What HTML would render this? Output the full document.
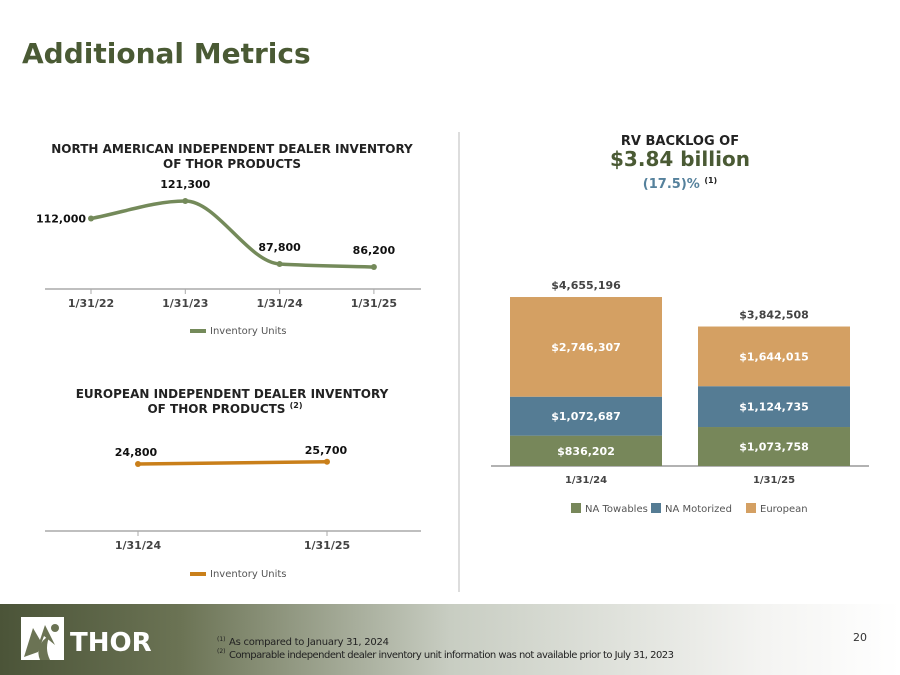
<!DOCTYPE html>
<html><head><meta charset="utf-8"><style>
body{margin:0;width:900px;height:675px;overflow:hidden;background:#fff;font-family:"DejaVu Sans","Liberation Sans",sans-serif}
svg{position:absolute;left:0;top:0}
</style></head><body>
<svg width="900" height="675">
<defs><linearGradient id="fg" x1="0" x2="1" y1="0" y2="0"><stop offset="0" stop-color="#4b5438"/><stop offset="0.2" stop-color="#6b7354"/><stop offset="0.5" stop-color="#c8cdc2"/><stop offset="0.85" stop-color="#f4f4f2"/><stop offset="1" stop-color="#ffffff"/></linearGradient></defs>
<text x="22" y="63" font-size="28" font-weight="bold" fill="#4a5a34">Additional Metrics</text>
<line x1="459" y1="132" x2="459" y2="592" stroke="#ddd" stroke-width="2"/>
<g id="na">
<text x="232" y="153" font-size="12" font-weight="bold" fill="#222" text-anchor="middle">NORTH AMERICAN INDEPENDENT DEALER INVENTORY</text>
<text x="232" y="168" font-size="12" font-weight="bold" fill="#222" text-anchor="middle">OF THOR PRODUCTS</text>
<line x1="45" y1="289" x2="421" y2="289" stroke="#aaa" stroke-width="1.5"/>
<line x1="190" y1="331" x2="206" y2="331" stroke="#748a5a" stroke-width="4"/>
<text x="210" y="334" font-size="10" fill="#555">Inventory Units</text>
</g>
<g id="eu">
<text x="232" y="398" font-size="12" font-weight="bold" fill="#222" text-anchor="middle">EUROPEAN INDEPENDENT DEALER INVENTORY</text>
<text x="225" y="413" font-size="12" font-weight="bold" fill="#222" text-anchor="middle">OF THOR PRODUCTS <tspan font-size="8" dy="-5">(2)</tspan></text>
<line x1="45" y1="531" x2="421" y2="531" stroke="#aaa" stroke-width="1.5"/>
<line x1="190" y1="574" x2="206" y2="574" stroke="#c97f1a" stroke-width="4"/>
<text x="210" y="577" font-size="10" fill="#555">Inventory Units</text>
</g>
<g id="bl">
<text x="680" y="145" font-size="13" font-weight="bold" fill="#222" text-anchor="middle">RV BACKLOG OF</text>
<text x="680" y="166" font-size="20" font-weight="bold" fill="#4a5a34" text-anchor="middle">$3.84 billion</text>
<text x="680" y="188" font-size="13" font-weight="bold" fill="#55819c" text-anchor="middle">(17.5)% <tspan font-size="8" dy="-5" fill="#222">(1)</tspan></text>
<line x1="491" y1="466" x2="869" y2="466" stroke="#999" stroke-width="1.5"/>
</g>
<g font-size="10" fill="#555">
<rect x="571" y="503" width="10" height="10" fill="#77875a"/><text x="585" y="512">NA Towables</text>
<rect x="651" y="503" width="10" height="10" fill="#557c94"/><text x="665" y="512">NA Motorized</text>
<rect x="746" y="503" width="10" height="10" fill="#d4a063"/><text x="760" y="512">European</text>
</g>
<rect x="0" y="604" width="900" height="71" fill="url(#fg)"/>
<g>
<rect x="21" y="617" width="43" height="43" fill="#fff"/>
<path d="M24 657 L33 628 L40 640 L45 625 L55 645 L44 636 L38 652 Z" fill="#6b7354"/>
<path d="M40 660 Q34 645 50 635 Q44 648 50 660 Z" fill="#6b7354"/>
<circle cx="55" cy="628" r="4" fill="#6b7354"/>
<text x="70" y="651" font-size="26" font-weight="bold" fill="#fff">THOR</text>
</g>
<g font-size="10" fill="#222">
<text x="217" y="641" font-size="6">(1)</text><text x="229" y="645" textLength="160">As compared to January 31, 2024</text>
<text x="217" y="653" font-size="6">(2)</text><text x="229" y="658" textLength="445">Comparable independent dealer inventory unit information was not available prior to July 31, 2023</text>
</g>
<text x="853" y="641" font-size="11" fill="#333">20</text>
</svg>
<script>
const NS="http://www.w3.org/2000/svg";
const naCats=["1/31/22","1/31/23","1/31/24","1/31/25"];
const naVals=[112000,121300,87800,86200];
const naLabels=["112,000","121,300","87,800","86,200"];
const euCats=["1/31/24","1/31/25"];
const euVals=[24800,25700];
const euLabels=["24,800","25,700"];
const blCats=["1/31/24","1/31/25"];
const blTow=[836202,1073758];
const blMot=[1072687,1124735];
const blEur=[2746307,1644015];
const blTowL=["$836,202","$1,073,758"];
const blMotL=["$1,072,687","$1,124,735"];
const blEurL=["$2,746,307","$1,644,015"];
const blTotL=["$4,655,196","$3,842,508"];
function mk(parent,tag,attrs){const e=document.createElementNS(NS,tag);for(const k in attrs)e.setAttribute(k,attrs[k]);parent.appendChild(e);return e;}
function txt(parent,x,y,s,size,fill,w){const t=mk(parent,"text",{x:x,y:y,"font-size":size,fill:fill,"text-anchor":"middle","font-weight":w||"bold"});t.textContent=s;return t;}
// NA
const na=document.getElementById("na");
const naX=i=>91+i*94.3;
const naY=v=>264-(v-87800)*0.00188;
const pts=naVals.map((v,i)=>[naX(i),naY(v)]);
const n=pts.length,dx=[],sl=[],m=[];
for(let i=0;i<n-1;i++){dx[i]=pts[i+1][0]-pts[i][0];sl[i]=(pts[i+1][1]-pts[i][1])/dx[i];}
m[0]=sl[0];m[n-1]=sl[n-2];
for(let i=1;i<n-1;i++){m[i]=(sl[i-1]*sl[i]<=0)?0:2/(1/sl[i-1]+1/sl[i]);}
let d="M"+pts[0][0]+" "+pts[0][1];
for(let i=0;i<n-1;i++){const h=dx[i]/3;
d+=` C${pts[i][0]+h} ${pts[i][1]+m[i]*h} ${pts[i+1][0]-h} ${pts[i+1][1]-m[i+1]*h} ${pts[i+1][0]} ${pts[i+1][1]}`;}
const nl=mk(na,"path",{d:d,fill:"none",stroke:"#748a5a","stroke-width":3.5});


pts.forEach((p,i)=>{const c=mk(na,"circle",{cx:p[0],cy:p[1],r:3,fill:"#748a5a"});


const lx=i==0?p[0]-30:p[0],ly=i==0?p[1]+4:p[1]-13;
const l=txt(na,lx,ly,naLabels[i],11,"#111");


mk(na,"line",{x1:p[0],y1:289,x2:p[0],y2:294,stroke:"#aaa"});
const tk=txt(na,p[0],307,naCats[i],11,"#444");

});
// EU
const eu=document.getElementById("eu");
const euX=i=>138+i*189;
const euY=v=>464-(v-24800)*0.0025;
const ep=euVals.map((v,i)=>[euX(i),euY(v)]);
const el=mk(eu,"line",{x1:ep[0][0],y1:ep[0][1],x2:ep[1][0],y2:ep[1][1],stroke:"#c97f1a","stroke-width":3.5});


ep.forEach((p,i)=>{const c=mk(eu,"circle",{cx:p[0],cy:p[1],r:3,fill:"#c97f1a"});


const l=txt(eu,p[0]+(i==0?-2:-1),p[1]-8,euLabels[i],11,"#111");


mk(eu,"line",{x1:p[0],y1:531,x2:p[0],y2:536,stroke:"#aaa"});
const tk=txt(eu,p[0],549,euCats[i],11,"#444");

});
// Backlog
const bl=document.getElementById("bl");
const bX=i=>510+i*188, bW=152, base=466, sc=3.63e-5;
blCats.forEach((c,i)=>{let y=base;
[[blTow,blTowL,"#77875a","towables"],[blMot,blMotL,"#557c94","motorized"],[blEur,blEurL,"#d4a063","european"]].forEach(s=>{
const h=s[0][i]*sc;y-=h;
const r=mk(bl,"rect",{x:bX(i),y:y,width:bW,height:h,fill:s[2]});


const l=txt(bl,bX(i)+bW/2,y+h/2+4,s[1][i],11,"#fff");

});
const tl=txt(bl,bX(i)+bW/2,y-8,blTotL[i],11,"#444");


const tk=txt(bl,bX(i)+bW/2,483,c,10,"#444");

});
</script>
</body></html>
